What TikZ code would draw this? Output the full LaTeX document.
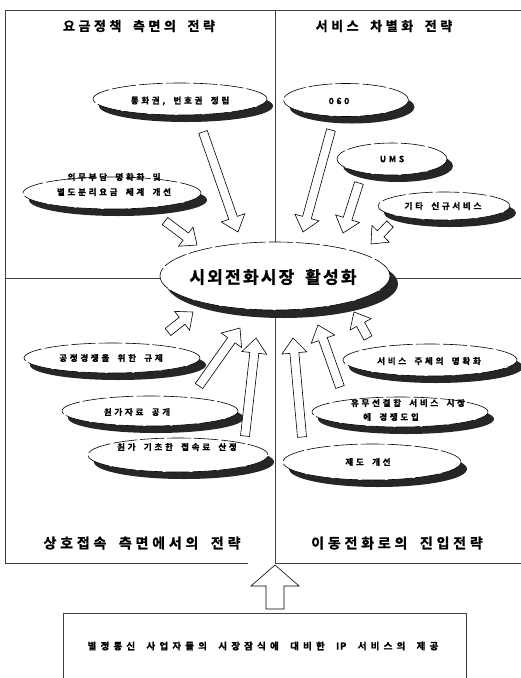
\documentclass[tikz,border=0pt]{standalone}
\usepackage{fontspec}
\setmainfont{Noto Sans CJK KR}[BoldFont={Noto Sans CJK KR Bold}, WordSpace=1.8]
\usetikzlibrary{shapes.geometric,shadows,calc}

\tikzset{
  oval/.style={ellipse, draw, fill=white, line width=0.6pt, dash pattern=on 24pt off 3pt,
    inner sep=0pt, drop shadow={shadow xshift=6pt, shadow yshift=-7pt, fill=black!85, opacity=1}},
  bigoval/.style={oval, drop shadow={shadow xshift=8pt, shadow yshift=-8pt, fill=black!85, opacity=1}},
  lbl/.style={font=\bfseries\fontsize{8.5}{11}\selectfont\addfontfeatures{LetterSpace=32,FakeBold=1.2}, inner sep=0pt},
  ttl/.style={font=\bfseries\fontsize{13}{15}\selectfont\addfontfeatures{LetterSpace=27,FakeBold=1.2}, inner sep=0pt},
  ttlb/.style={font=\bfseries\fontsize{14}{16}\selectfont\addfontfeatures{LetterSpace=27,FakeBold=1.2}, inner sep=0pt},
  centertxt/.style={font=\bfseries\fontsize{17}{19}\selectfont\addfontfeatures{LetterSpace=13,FakeBold=1.2}, inner sep=0pt},
  boxtxt/.style={font=\bfseries\fontsize{9.5}{11}\selectfont\addfontfeatures{LetterSpace=44,FakeBold=1.2}, inner sep=0pt},
  gridline/.style={line width=0.7pt, black!75},
  barr/.style={draw, fill=white, line width=0.6pt, line join=miter}
}

\newcommand\blockarrow[5]{%
  \coordinate (babase) at ($(#2)!#5!(#1)$);
  \draw[barr] ($(#1)!#3!90:(#2)$) -- ($(babase)!#3!90:(#2)$) -- ($(babase)!#4!90:(#2)$)
    -- (#2) -- ($(babase)!#4!-90:(#2)$) -- ($(babase)!#3!-90:(#2)$) -- ($(#1)!#3!-90:(#2)$) -- cycle;}

\begin{document}
\begin{tikzpicture}[x=1pt,y=-1pt]
\useasboundingbox (0,0) rectangle (521,678);

% frame and dividers
\coordinate (TL) at (5,10);
\coordinate (TR) at (521,10);
\coordinate (TM) at (275,10);
\coordinate (BL) at (5,563);
\coordinate (BLm) at (248,563);
\coordinate (BM) at (275,563);
\coordinate (BR) at (521,563);
\coordinate (ML) at (5,278);
\coordinate (MR) at (521,278);
\draw[gridline] (TR) -- (TL) -- (BL) -- (BLm);
\draw[gridline] (BM) -- (BR);
\draw[gridline] (TM) -- (BM);
\draw[gridline] (ML) -- (MR);

% titles
\node[ttl] (t1) at (139,26) {요금정책 측면의 전략};
\node[ttl] (t2) at (384,26) {서비스 차별화 전략};
\node[ttlb] (t3) at (142,543) {상호접속 측면에서의 전략};
\node[ttlb] (t4) at (397,543) {이동전화로의 진입전략};

% central ellipse
\node[bigoval, minimum width=230pt, minimum height=68pt] (CE) at (275,276) {};
\node[centertxt] (CEt) at (273,277) {시외전화시장 활성화};

% ellipses
\node[oval, minimum width=174pt, minimum height=32pt] (E1) at (180,99) {};
\node[lbl] (E1t) at (180,101) {통화권, 번호권 정립};
\node[oval, minimum width=178pt, minimum height=32pt] (E2) at (112,193) {};
\node[lbl] (E2a) at (114,177) {의무부담 명확화 및};
\node[lbl] (E2b) at (114,192) {별도분리요금 체계 개선};
\node[oval, minimum width=125pt, minimum height=33pt] (E3) at (346,100) {};
\node[lbl] (E3t) at (339,101) {060};
\node[oval, minimum width=110pt, minimum height=32pt] (E4) at (392,159) {};
\node[lbl] (E4t) at (392,159) {UMS};
\node[oval, minimum width=132pt, minimum height=28pt] (E5) at (444,206) {};
\node[lbl] (E5t) at (443,206) {기타 신규서비스};
\node[oval, minimum width=176pt, minimum height=30pt] (E6) at (112,358) {};
\node[lbl] (E6t) at (111,358) {공정경쟁을 위한 규제};
\node[oval, minimum width=176pt, minimum height=30pt] (E7) at (150,411) {};
\node[lbl] (E7t) at (137,412) {원가자료 공개};
\node[oval, minimum width=180pt, minimum height=34pt] (E8) at (178,455) {};
\node[lbl] (E8t) at (177,447) {원가 기초한 접속료 산정};
\node[oval, minimum width=174pt, minimum height=32pt] (E9) at (430,360) {};
\node[lbl] (E9t) at (429,361) {서비스 주체의 명확화};
\node[oval, minimum width=176pt, minimum height=30pt] (E10) at (400,412) {};
\node[lbl] (E10a) at (408,403) {유무선결합 서비스 시장};
\node[lbl] (E10b) at (391,417) {에 경쟁도입};
\node[oval, minimum width=178pt, minimum height=36pt] (E11) at (372,462) {};
\node[lbl] (E11t) at (368,462) {제도 개선};

% block arrows: tails and tips
\coordinate (a1s) at (203,132);  \coordinate (a1e) at (238,232);
\coordinate (a2s) at (165,221);  \coordinate (a2e) at (197,245);
\coordinate (a3s) at (331,130);  \coordinate (a3e) at (303,232);
\coordinate (a4s) at (359,183);  \coordinate (a4e) at (343,233);
\coordinate (a5s) at (390,224);  \coordinate (a5e) at (371,244);
\coordinate (a6s) at (168,332);  \coordinate (a6e) at (193,312);
\coordinate (a7s) at (199,386);  \coordinate (a7e) at (240,328);
\coordinate (a8s) at (245,436);  \coordinate (a8e) at (256,338);
\coordinate (a9s) at (302,437);  \coordinate (a9e) at (293,338);
\coordinate (a10s) at (340,387); \coordinate (a10e) at (318,325);
\coordinate (a11s) at (368,338); \coordinate (a11e) at (354,312);
\blockarrow{a1s}{a1e}{4.5pt}{12.5pt}{15pt}
\blockarrow{a2s}{a2e}{4.5pt}{12pt}{14pt}
\blockarrow{a3s}{a3e}{4.5pt}{12.5pt}{15pt}
\blockarrow{a4s}{a4e}{4.5pt}{12.5pt}{15pt}
\blockarrow{a5s}{a5e}{4.5pt}{12pt}{14pt}
\blockarrow{a6s}{a6e}{4.5pt}{12pt}{14pt}
\blockarrow{a7s}{a7e}{4.5pt}{12.5pt}{15pt}
\blockarrow{a8s}{a8e}{4.5pt}{12.5pt}{15pt}
\blockarrow{a9s}{a9e}{4.5pt}{12.5pt}{15pt}
\blockarrow{a10s}{a10e}{4.5pt}{12.5pt}{15pt}
\blockarrow{a11s}{a11e}{4.5pt}{12pt}{14pt}

% bottom box and up arrow
\coordinate (bx1) at (63,678);
\coordinate (bx2) at (63,613);
\coordinate (bx3) at (466,613);
\coordinate (bx4) at (466,678);
\draw[gridline] (bx1) -- (bx2) -- (bx3) -- (bx4);
\node[boxtxt] (ip) at (263,646) {별정통신 사업자들의 시장잠식에 대비한 {\addfontfeatures{LetterSpace=8}IP} 서비스의 제공};
\coordinate (ua1) at (275,609);
\coordinate (ua2) at (275,565);
\blockarrow{ua1}{ua2}{9pt}{24pt}{21pt}
\end{tikzpicture}
\end{document}
